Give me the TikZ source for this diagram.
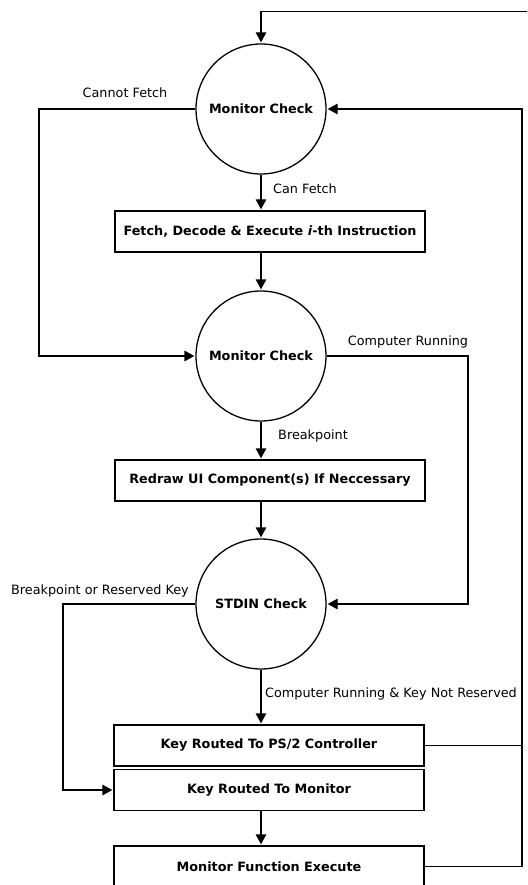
\documentclass[tikz,border=0pt]{standalone}
\usepackage{fontspec}
\setmainfont{DejaVu Sans}
\usetikzlibrary{shapes,arrows.meta,positioning}

\begin{document}
\begin{tikzpicture}[x=1pt, y=-1pt, line width=1.3pt,
	every node/.style={font=\fontsize{12.8}{15}\selectfont},
	check/.style={draw, circle, minimum size=130pt, inner sep=0pt, font=\fontsize{12.8}{15}\selectfont\bfseries},
	task/.style={draw, rectangle, minimum width=310pt, minimum height=41pt, inner sep=0pt, font=\fontsize{12.8}{15}\selectfont\bfseries},
	flow/.style={-{Triangle[length=10pt,width=10.5pt]}, shorten >=1pt}]
					\useasboundingbox (0,0) rectangle (527,885);
					\clip (0,0) rectangle (527,885);
					
					% Checks
					\node[check] (mon1) at (261,109) {Monitor Check};
					\node[check] (mon2) at (261,356) {Monitor Check};
					\node[check] (stdin) at (261,604) {STDIN Check};
					
					% Tasks
					\node[task] (fetch) at (270,231.5) {Fetch, Decode \& Execute \textit{i}-th Instruction};
					\node[task] (redraw) at (270,480.5) {Redraw UI Component(s) If Neccessary};
					\node[task] (ps2) at (269,745.5) {Key Routed To PS/2 Controller};
					\node[task] (kmon) at (269,790) {Key Routed To Monitor};
					\node[task] (mfunc) at (269,866.5) {Monitor Function Execute};
					
					% Turning points
					\coordinate (topin) at (540,11.7);
					\coordinate (rgt) at (522,0);
					\coordinate (lft) at (39,0);
					\coordinate (crx) at (468,0);
					\coordinate (brx) at (63,0);
					
					% Main flow
					\draw[flow] (topin) -| (mon1.north);
					\draw[flow] (mon1) -- (mon1 |- fetch.north);
					\draw[flow] (fetch.south -| mon2) -- (mon2);
					\draw[flow] (mon2) -- (mon2 |- redraw.north);
					\draw[flow] (redraw.south -| stdin) -- (stdin);
					\draw[flow] (stdin) -- (stdin |- ps2.north);
					\draw[flow] (kmon.south -| stdin) -- (stdin |- mfunc.north);
					
					% Branches
					\draw[flow] (mon1.west) -- (mon1.west -| lft) |- (mon2.west);
					\draw[flow] (mon2.east) -- (mon2.east -| crx) |- (stdin.east);
					\draw[flow] (stdin.west) -- (stdin.west -| brx) |- (kmon.west);
					\draw[flow] (mfunc.east) -| (rgt |- mon1.east) -- (mon1.east);
					\draw (ps2.east) -- (ps2.east -| rgt);
					
					% Labels
					\node (lcannot) at (125,93) {Cannot Fetch};
					\node (lcan) at (305,189) {Can Fetch};
					\node (lrun) at (408,342) {Computer Running};
					\node (lbreak) at (313,436) {Breakpoint};
					\node (lreserved) at (100,591) {Breakpoint or Reserved Key};
					\node (lnotres) at (391,694) {Computer Running \& Key Not Reserved};
				\end{tikzpicture}
\end{document}
